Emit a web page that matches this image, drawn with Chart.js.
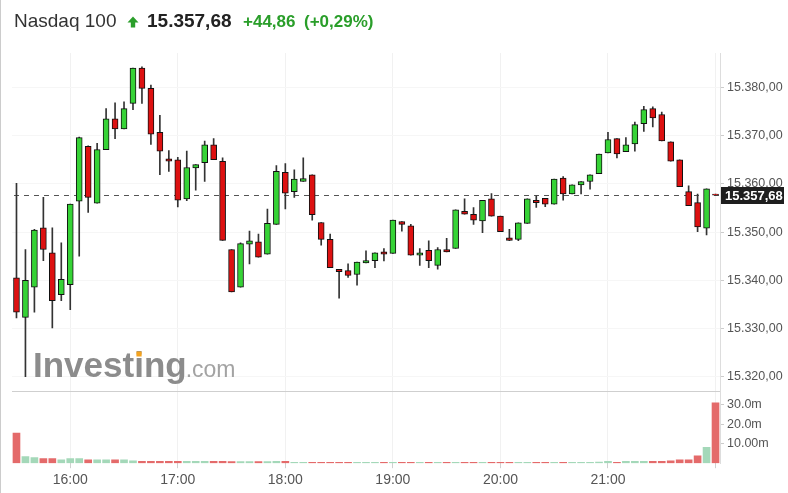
<!DOCTYPE html>
<html><head><meta charset="utf-8">
<script src="https://cdn.jsdelivr.net/npm/chart.js@4.4.0/dist/chart.umd.min.js"></script>
<style>html,body{margin:0;padding:0;background:#fff;}canvas{display:block}</style>
</head><body>
<canvas id="c" width="788" height="493"></canvas>
<script>
const TIMES = ['15:30','15:35','15:40','15:45','15:50','15:55','16:00','16:05','16:10','16:15','16:20','16:25',
'16:30','16:35','16:40','16:45','16:50','16:55','17:00','17:05','17:10','17:15','17:20','17:25',
'17:30','17:35','17:40','17:45','17:50','17:55','18:00','18:05','18:10','18:15','18:20','18:25',
'18:30','18:35','18:40','18:45','18:50','18:55','19:00','19:05','19:10','19:15','19:20','19:25',
'19:30','19:35','19:40','19:45','19:50','19:55','20:00','20:05','20:10','20:15','20:20','20:25',
'20:30','20:35','20:40','20:45','20:50','20:55','21:00','21:05','21:10','21:15','21:20','21:25',
'21:30','21:35','21:40','21:45','21:50','21:55','22:00'];
const OPEN = [15340.5,15332.3,15338.6,15350.9,15345.7,15337.0,15339.1,15356.4,15367.8,15356.0,15367.1,15373.5,
15371.4,15376.7,15384.0,15379.8,15370.7,15365.2,15365.0,15356.9,15363.3,15364.4,15368.1,15364.7,
15346.4,15338.6,15347.5,15348.0,15345.4,15351.6,15362.4,15358.4,15360.5,15361.9,15352.0,15348.5,
15342.3,15342.0,15341.2,15343.6,15344.1,15345.9,15345.6,15352.2,15351.3,15345.2,15346.2,15343.1,
15346.4,15346.6,15354.3,15353.7,15352.3,15356.9,15353.3,15348.8,15348.5,15351.8,15356.6,15357.0,
15355.8,15361.2,15357.9,15359.8,15360.5,15362.1,15366.4,15369.4,15366.7,15368.3,15372.5,15375.6,
15374.4,15368.7,15365.0,15358.4,15356.1,15350.8,15357.9];
const HIGH = [15360.1,15346.4,15350.6,15357.2,15350.9,15347.8,15355.8,15369.7,15367.9,15368.4,15375.6,15376.8,
15377.0,15384.0,15384.3,15380.5,15374.2,15366.9,15365.5,15366.8,15364.0,15368.9,15369.4,15365.4,
15346.4,15347.8,15350.2,15349.6,15354.8,15363.8,15364.2,15362.9,15365.4,15361.9,15352.0,15349.6,
15342.3,15343.4,15343.8,15346.1,15345.7,15346.6,15352.5,15352.2,15351.6,15346.6,15348.2,15346.8,
15348.7,15354.6,15356.9,15355.1,15356.6,15358.0,15353.3,15350.6,15351.9,15356.9,15357.5,15357.0,
15361.0,15361.5,15359.8,15360.5,15361.9,15366.2,15370.7,15369.4,15369.6,15372.8,15376.1,15376.0,
15374.9,15368.7,15365.0,15359.6,15357.9,15359.0,15357.9];
const LOW = [15332.2,15320.0,15333.4,15344.1,15330.1,15335.8,15333.9,15345.0,15354.1,15356.0,15367.1,15369.4,
15371.4,15375.4,15376.7,15368.2,15361.9,15362.6,15355.2,15356.5,15358.7,15360.5,15365.0,15348.3,
15337.6,15338.6,15343.4,15344.8,15345.4,15351.6,15354.8,15357.2,15360.5,15352.5,15347.3,15342.6,
15336.3,15340.6,15339.0,15343.6,15342.6,15344.0,15345.6,15350.2,15345.2,15343.1,15342.6,15342.3,
15345.9,15346.6,15353.7,15351.6,15349.9,15353.3,15350.1,15348.2,15348.2,15351.8,15355.1,15355.3,
15355.8,15356.6,15357.9,15357.9,15358.9,15362.1,15366.4,15365.4,15366.7,15366.8,15370.9,15371.8,
15368.9,15364.7,15359.4,15355.5,15350.1,15349.4,15357.68];
const CLOSE = [15333.4,15340.0,15350.4,15346.4,15335.8,15340.2,15355.8,15369.6,15357.2,15367.1,15373.5,15371.4,
15375.6,15384.0,15379.8,15370.3,15366.8,15364.7,15356.6,15363.4,15364.0,15368.1,15365.0,15348.3,
15337.6,15347.6,15348.2,15344.8,15351.8,15362.6,15358.1,15361.0,15361.1,15353.6,15348.5,15342.6,
15341.8,15341.0,15343.8,15344.1,15345.7,15345.4,15352.5,15351.6,15345.2,15345.7,15344.1,15346.4,
15345.9,15354.6,15353.7,15352.5,15356.6,15353.3,15350.1,15348.3,15351.9,15356.9,15356.1,15355.8,
15361.0,15357.9,15359.8,15360.5,15361.9,15366.2,15369.2,15366.2,15368.1,15372.3,15375.4,15373.7,
15368.9,15364.7,15359.4,15355.5,15351.1,15359.0,15357.68];
const VOLUME_M = [15.5,3.4,2.9,2.4,2.4,1.7,2.4,2.4,1.7,1.7,1.7,1.7,
1.7,1.2,1.0,1.0,1.0,1.0,1.0,0.9,0.9,0.9,0.9,1.0,
0.8,0.8,0.8,0.8,0.8,0.9,0.9,0.5,0.5,0.5,0.5,0.5,
0.5,0.5,0.5,0.5,0.5,0.5,0.5,0.5,0.5,0.5,0.5,0.5,
0.5,0.5,0.5,0.5,0.5,0.5,0.5,0.5,0.5,0.5,0.5,0.5,
0.5,0.5,0.5,0.5,0.5,0.6,0.9,0.5,1.0,1.0,1.0,1.0,
1.0,1.2,1.7,1.7,3.8,8.1,31.0];
const PRICE_TICKS = [15320,15330,15340,15350,15360,15370,15380];
const VOL_TICKS = [10,20,30];
const VOL_TICK_LABELS = ['10.00m','20.0m','30.0m'];
const CURRENT = 15357.68;
const HEADER_NAME = 'Nasdaq 100';
const HEADER_PRICE = '15.357,68';
const HEADER_CHANGE = '+44,86';
const HEADER_PCT = '(+0,29%)';
const WATERMARK = ['Investing', '.com'];

const FONT = '"Liberation Sans", Arial, sans-serif';
const UP = '#36d336', DOWN = '#dd1111';
const VUP = '#a4d8b9', VDOWN = '#e46a6a';
const GREEN_TXT = '#2a9e2a';

function fmtPrice(v){
  const s = Number(v).toFixed(2);
  const [i,d] = s.split('.');
  return i.replace(/\B(?=(\d{3})+(?!\d))/g,'.') + ',' + d;
}
const isUp = i => CLOSE[i] >= OPEN[i];
const isHour = i => TIMES[i] && TIMES[i].endsWith(':00');

const overlay = {
  id:'overlay',
  beforeDatasetsDraw(chart){
    const ctx = chart.ctx, ca = chart.chartArea, y = chart.scales.y, yv = chart.scales.yv;
    ctx.save();
    ctx.textBaseline = 'alphabetic';
    ctx.font = 'bold 35px ' + FONT;
    ctx.fillStyle = '#8c8c8c';
    const wx = 33, wy = 377;
    ctx.fillText(WATERMARK[0], wx, wy);
    const w1 = ctx.measureText(WATERMARK[0]).width;
    const wInv = ctx.measureText('Invest').width;
    const wi = ctx.measureText('i').width;
    ctx.fillStyle = '#f5a31e';
    ctx.fillRect(wx + wInv + wi/2 - 2.6, wy - 25.5, 5.2, 5);
    ctx.font = '23px ' + FONT;
    ctx.fillStyle = '#a3a3a3';
    ctx.fillText(WATERMARK[1], wx + w1 - 1, wy);
    ctx.strokeStyle = '#cfcfcf';
    ctx.lineWidth = 1;
    ctx.beginPath();
    ctx.moveTo(ca.left, Math.round(yv.top) + 0.5);
    ctx.lineTo(ca.right, Math.round(yv.top) + 0.5);
    ctx.stroke();
    const py = Math.round(y.getPixelForValue(CURRENT)) + 0.5;
    ctx.strokeStyle = '#555';
    ctx.setLineDash([5,5]);
    ctx.beginPath();
    ctx.moveTo(ca.left + 2, py);
    ctx.lineTo(ca.right + 3, py);
    ctx.stroke();
    ctx.restore();
  },
  afterDraw(chart){
    const ctx = chart.ctx, ca = chart.chartArea, y = chart.scales.y;
    ctx.save();
    const py = Math.round(y.getPixelForValue(CURRENT));
    ctx.fillStyle = '#1e1e1e';
    ctx.fillRect(ca.right + 1, py - 8, 63, 17);
    ctx.fillStyle = '#fff';
    ctx.font = 'bold 13px ' + FONT;
    ctx.textBaseline = 'middle';
    ctx.fillText(fmtPrice(CURRENT), ca.right + 5, py + 1);
    ctx.textBaseline = 'alphabetic';
    ctx.font = '19px ' + FONT;
    ctx.fillStyle = '#333';
    ctx.fillText(HEADER_NAME, 14, 27);
    ctx.fillStyle = GREEN_TXT;
    ctx.beginPath();
    ctx.moveTo(127.5, 22.5); ctx.lineTo(133, 16.5); ctx.lineTo(138.5, 22.5); ctx.closePath(); ctx.fill();
    ctx.fillRect(130.8, 22, 4.4, 5.5);
    ctx.font = 'bold 19px ' + FONT;
    ctx.fillStyle = '#222';
    ctx.fillText(HEADER_PRICE, 147, 27);
    ctx.font = 'bold 17px ' + FONT;
    ctx.fillStyle = GREEN_TXT;
    ctx.fillText(HEADER_CHANGE, 243, 27);
    ctx.fillText(HEADER_PCT, 304, 27);
    ctx.strokeStyle = '#cccccc';
    ctx.beginPath(); ctx.moveTo(0.5, 0); ctx.lineTo(0.5, 493); ctx.stroke();
    ctx.restore();
  }
};

new Chart(document.getElementById('c'), {
  type: 'bar',
  data: {
    labels: TIMES,
    datasets: [
      { label:'body', yAxisID:'y', order:0, grouped:false,
        data: TIMES.map((t,i)=>[OPEN[i], CLOSE[i]]),
        backgroundColor: TIMES.map((t,i)=> isUp(i) ? UP : DOWN),
        borderColor: '#111', borderWidth: 1, borderSkipped: false, barThickness: 6 },
      { label:'wick', yAxisID:'y', order:1, grouped:false,
        data: TIMES.map((t,i)=>[LOW[i], HIGH[i]]),
        backgroundColor: '#333', borderWidth: 0, barThickness: 1 },
      { label:'volume', yAxisID:'yv', order:2, grouped:false,
        data: VOLUME_M,
        backgroundColor: TIMES.map((t,i)=> isUp(i) ? VUP : VDOWN),
        borderWidth: 0, barThickness: 7 }
    ]
  },
  options: {
    responsive: false, devicePixelRatio: 1, animation: false,
    layout: { padding: { left: 12, top: 53, right: 0, bottom: 0 } },
    plugins: { legend: { display: false }, tooltip: { enabled: false } },
    scales: {
      x: {
        type: 'category', offset: true,
        grid: { offset: false, tickLength: 5,
          color: ctx => isHour(ctx.index) ? '#f1f1f1' : 'rgba(0,0,0,0)',
          tickColor: ctx => isHour(ctx.index) ? '#d0d0d0' : 'rgba(0,0,0,0)' },
        border: { display: false },
        ticks: { autoSkip: false, maxRotation: 0, padding: 4, color: '#555',
          font: { family: FONT, size: 14 },
          callback: (v, i) => (isHour(i) && i < TIMES.length - 1) ? TIMES[i] : '' }
      },
      y: {
        position: 'right', stack: 'panels', stackWeight: 336,
        min: 15317.08, max: 15387.15,
        afterBuildTicks: s => { s.ticks = PRICE_TICKS.map(v => ({ value: v })); },
        ticks: { autoSkip: false, padding: 3, color: '#555',
          font: { family: FONT, size: 12.5 }, callback: v => fmtPrice(v) },
        grid: { color: '#f6f6f6', tickColor: '#cccccc', tickLength: 4 },
        border: { color: '#dddddd' },
        afterFit: s => { s.width = 68; }
      },
      yv: {
        position: 'right', stack: 'panels', stackWeight: 72,
        min: 0, max: 37.2,
        afterBuildTicks: s => { s.ticks = VOL_TICKS.map(v => ({ value: v })); },
        ticks: { autoSkip: false, padding: 3, color: '#555',
          font: { family: FONT, size: 12.5 },
          callback: v => { const k = VOL_TICKS.indexOf(v); return k >= 0 ? VOL_TICK_LABELS[k] : ''; } },
        grid: { drawOnChartArea: false, tickLength: 4, tickColor: '#cccccc' },
        border: { color: '#dddddd' },
        afterFit: s => { s.width = 68; }
      }
    }
  },
  plugins: [overlay]
});
</script>
</body></html>
